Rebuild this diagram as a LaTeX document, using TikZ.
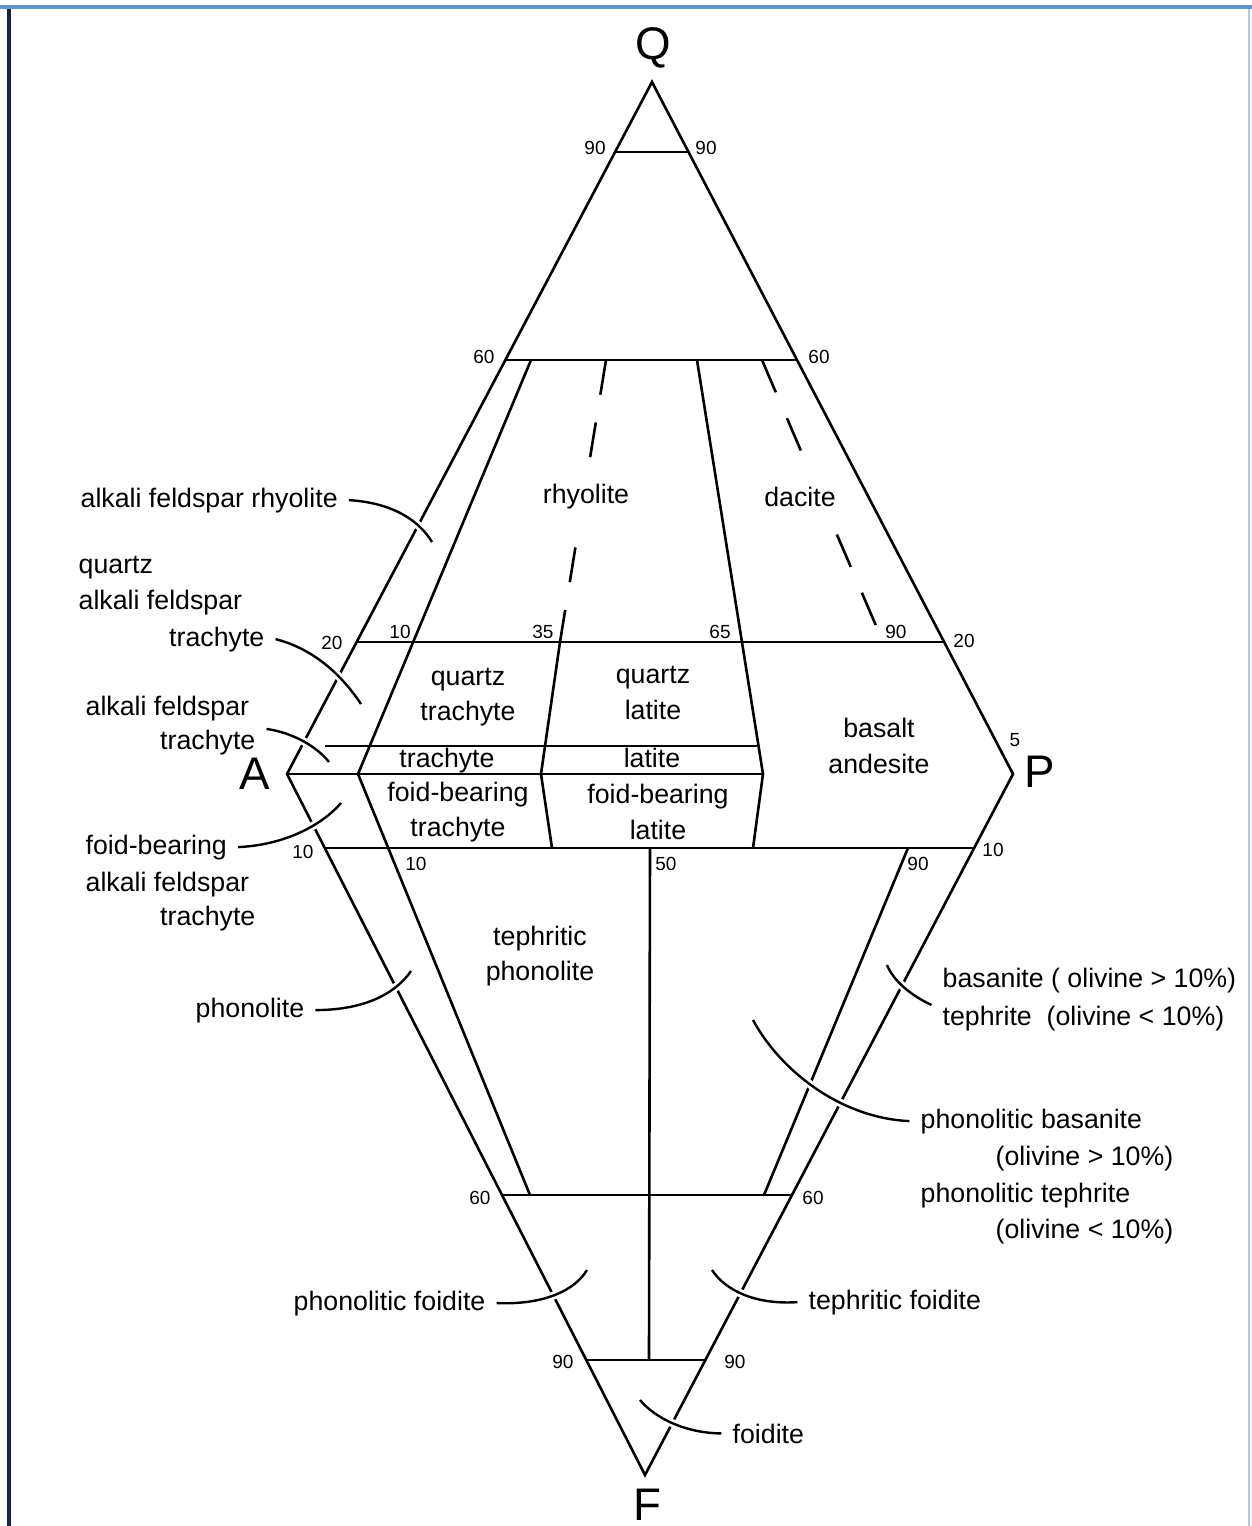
\documentclass[tikz,border=0pt]{standalone}
\usepackage{fontspec}
\setmainfont{Liberation Sans}
\definecolor{framebl}{RGB}{95,150,205}
\definecolor{frameleft}{RGB}{25,35,70}
\tikzset{
  qapf/.style={line width=0.026cm},
  qapfdash/.style={line width=0.026cm, dash pattern=on 10pt off 8pt},
  leader/.style={line width=0.024cm, preaction={draw=white, line width=0.08cm}},
  lbl/.style={inner sep=0pt, font=\fontsize{7.6}{10}\selectfont},
  reg/.style={inner sep=1pt, align=center, font=\fontsize{7.6}{10}\selectfont},
  knockout/.style={fill=white, inner xsep=2pt, inner ysep=0.13cm},
  num/.style={inner sep=0pt, font=\fontsize{5.4}{6}\selectfont},
  apex/.style={inner sep=0pt, font=\fontsize{13}{14}\selectfont},
}
\begin{document}
\begin{tikzpicture}[x=0.01cm, y=-0.01cm]
  \useasboundingbox (0,0) rectangle (1252,1526);

  % Frame
  \draw [framebl, line width=0.04cm] (0,7) -- (1252,7);%
  \draw [frameleft, line width=0.03cm] (9,9) -- (9,1526);%
  \draw [framebl!50, line width=0.02cm] (1249,9) -- (1249,1526);%

  % Corners
  \coordinate (Q) at (652,82);
  \coordinate (A) at (287,774);
  \coordinate (P) at (1013,774);
  \coordinate (F) at (645,1475);

  % Drawing outline
  \draw [qapf] (Q) -- (A) -- (F) -- (P) -- cycle;%

  % Drawing lines of constant Q
  \draw [qapf] (615,152) -- (688.5,152);%
  \draw [qapf] (505.4,360) -- (797,360);%
  \draw [qapf] (356.6,642) -- (944,642);%
  \draw [qapf] (325,746) -- (757,746);%
  \draw [qapf] (A) -- (763,774);%

  % Drawing lines of constant F
  \draw [qapf] (324.8,848) -- (974,848);%
  \draw [qapf] (502,1195) -- (792,1195);%
  \draw [qapf] (586,1360) -- (705.4,1360);%

  % Drawing line 10
  \draw [qapf] (531,360) -- (358,774) -- (530,1195);%

  % Drawing line 35
  \draw [qapfdash] (606,360) -- (560,642);%
  \draw [qapf] (560,642) -- (541,774) -- (552,848);%

  % Drawing line 65
  \draw [qapf] (697,360) -- (763,774) -- (753,848);%

  % Drawing line 90
  \draw [qapfdash] (762,360) -- (883,642);%
  \draw [qapf] (908,848) -- (764,1195);%

  % Drawing line 50
  \draw [qapf] (650,848) -- (649,1360);%

  % Marking corners
  \node [apex] (Qlab) at (653,48) {Q};%
  \node [apex] (Alab) at (255,774) {A};%
  \node [apex] (Plab) at (1040,772) {P};%
  \node [apex] (Flab) at (647,1505) {F};%

  % Marking percentages
  \node [num] (n90l) at (595,148) {90};%
  \node [num] (n90r) at (706,148) {90};%
  \node [num] (n60l) at (484,357) {60};%
  \node [num] (n60r) at (819,357) {60};%
  \node [num] (n20l) at (332,643) {20};%
  \node [num] (n20r) at (964,641) {20};%
  \node [num] (n10q) at (400,632) {10};%
  \node [num] (n35q) at (543,632) {35};%
  \node [num] (n65q) at (720,632) {65};%
  \node [num] (n90q) at (896,632) {90};%
  \node [num] (n5) at (1015,740) {5};%
  \node [num] (n10l) at (303,852) {10};%
  \node [num] (n10r) at (993,850) {10};%
  \node [num] (n10f) at (416,864) {10};%
  \node [num] (n50f) at (666,864) {50};%
  \node [num] (n90f) at (918,864) {90};%
  \node [num] (n60fl) at (480,1198) {60};%
  \node [num] (n60fr) at (813,1198) {60};%
  \node [num] (n90fl) at (563,1362) {90};%
  \node [num] (n90fr) at (735,1362) {90};%

  % Marking fields
  \node [reg, knockout] (rhy) at (586,497) {rhyolite};%
  \node [reg, knockout] (dac) at (800,497) {dacite};%
  \node [reg] (qtr) at (468,697) {quartz\\trachyte};%
  \node [reg] (qlat) at (653,693) {quartz\\latite};%
  \node [reg] (basand) at (879,746) {basalt\\andesite};%
  \node [reg] (tr) at (447,761) {trachyte};%
  \node [reg] (lat) at (652,758) {latite};%
  \node [reg] (fbtr) at (458,812) {foid-bearing\\trachyte};%
  \node [reg] (fblat) at (658,812) {foid-bearing\\latite};%
  \node [reg] (tphon) at (540,956) {tephritic\\phonolite};%

  % Marking fields outside, with leaders
  \node [lbl, anchor=base west] (afr) at (80,507) {alkali feldspar rhyolite};%
  \coordinate (afrend) at (432,542);
  \draw [leader] ([xshift=3pt]afr.east) .. controls (395,503) and (420,522) .. (afrend);%

  \node [lbl, anchor=base west] (qaft1) at (78,573) {quartz};%
  \node [lbl, anchor=base west] (qaft2) at (78,609) {alkali feldspar};%
  \node [lbl, anchor=base east] (qaft3) at (265,646) {trachyte};%
  \coordinate (qaftend) at (361,704);
  \draw [leader] ([xshift=3pt]qaft3.east) .. controls (318,650) and (345,680) .. (qaftend);%

  \node [lbl, anchor=base west] (aft1) at (85,715) {alkali feldspar};%
  \node [lbl, anchor=base east] (aft2) at (256,749) {trachyte};%
  \coordinate (aftend) at (329,762);
  \draw [leader] ([xshift=3pt]aft2.north east) .. controls (295,733) and (318,748) .. (aftend);%

  \node [lbl, anchor=base west] (fbaft1) at (85,854) {foid-bearing};%
  \node [lbl, anchor=base west] (fbaft2) at (85,891) {alkali feldspar};%
  \node [lbl, anchor=base east] (fbaft3) at (256,925) {trachyte};%
  \coordinate (fbaftend) at (341,803);
  \draw [leader] ([xshift=3pt]fbaft1.east) .. controls (285,845) and (322,825) .. (fbaftend);%

  \node [lbl, anchor=base west] (phon) at (195,1017) {phonolite};%
  \coordinate (phonend) at (411,971);
  \draw [leader] ([xshift=3pt]phon.east) .. controls (370,1010) and (398,990) .. (phonend);%

  \node [lbl, anchor=base west] (bas) at (942,987) {basanite ( olivine > 10\%)};%
  \node [lbl, anchor=base west] (teph) at (942,1025) {tephrite\ \ (olivine < 10\%)};%
  \coordinate (basend) at (887,965);
  \draw [leader] ([xshift=-3pt]teph.north west) .. controls (910,995) and (893,980) .. (basend);%

  \node [lbl, anchor=base west] (pbas1) at (920,1128) {phonolitic basanite};%
  \node [lbl, anchor=base west] (pbas2) at (995,1165) {(olivine > 10\%)};%
  \node [lbl, anchor=base west] (pteph1) at (920,1202) {phonolitic tephrite};%
  \node [lbl, anchor=base west] (pteph2) at (995,1238) {(olivine < 10\%)};%
  \coordinate (pbasend) at (753,1020);
  \draw [leader] ([xshift=-3pt]pbas1.west) .. controls (840,1118) and (780,1070) .. (pbasend);%

  \node [lbl, anchor=base west] (pfoid) at (293,1310) {phonolitic foidite};%
  \coordinate (pfoidend) at (587,1270);
  \draw [leader] ([xshift=3pt]pfoid.east) .. controls (545,1305) and (575,1290) .. (pfoidend);%

  \node [lbl, anchor=base west] (tfoid) at (808,1309) {tephritic foidite};%
  \coordinate (tfoidend) at (712,1270);
  \draw [leader] ([xshift=-3pt]tfoid.west) .. controls (755,1305) and (725,1290) .. (tfoidend);%

  \node [lbl, anchor=base west] (foid) at (732,1443) {foidite};%
  \coordinate (foidend) at (640,1400);
  \draw [leader] ([xshift=-3pt]foid.west) .. controls (685,1433) and (655,1418) .. (foidend);%
\end{tikzpicture}
\end{document}
